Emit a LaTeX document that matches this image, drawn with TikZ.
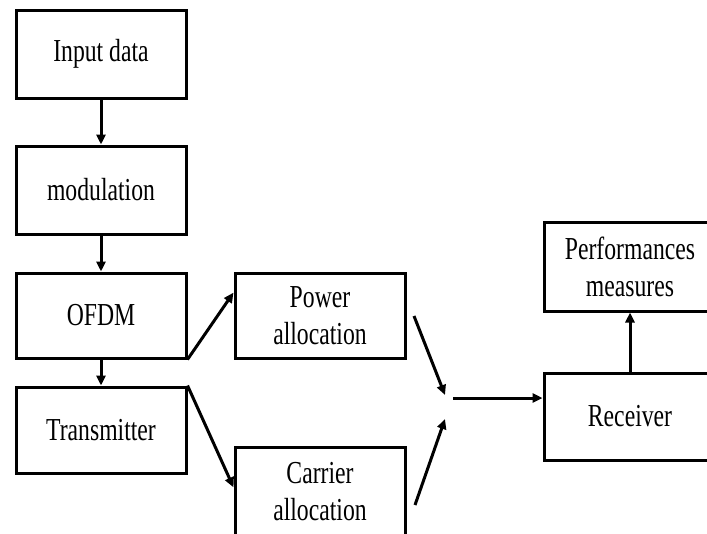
\documentclass[tikz,border=0pt]{standalone}
\usepackage{fontspec}
\setmainfont[FakeStretch=0.74]{Liberation Serif}
\usetikzlibrary{arrows.meta,calc}
\begin{document}
\begin{tikzpicture}[x=1pt,y=-1pt,
  box/.style={draw, line width=3pt, inner sep=0pt, minimum width=170pt, align=center,
    font=\fontsize{32}{37}\selectfont},
  arr/.style={line width=3pt, -{Triangle[length=10pt,width=9pt]}}]
\useasboundingbox (0,0) rectangle (707,533);
\clip (0,0) rectangle (707,533);
\fill[white] (0,0) rectangle (707,533);
\node[box, minimum height=88pt] (inp) at (101,54) {Input data};
\node[box, minimum height=88pt] (mod) at (101,190) {modulation};
\node[box, minimum height=85pt] (ofdm) at (101,315.5) {OFDM};
\node[box, minimum height=86pt] (tx) at (101,430) {Transmitter};
\node[box, minimum height=85pt] (pow) at (320,315.5) {Power\\allocation};
\node[box, minimum height=90pt] (car) at (320,492) {Carrier\\allocation};
\node[box, minimum width=172pt, minimum height=89pt] (perf) at (630,266.5) {Performances\\measures};
\node[box, minimum width=172pt, minimum height=87pt] (rx) at (630,416.5) {Receiver};
\coordinate (jp) at (414,316);
\coordinate (jpe) at (445,395);
\coordinate (jc) at (415,505);
\coordinate (jce) at (445,419);
\coordinate (jh) at (453,398);
\draw[arr] (inp) -- (mod);
\draw[arr] (mod) -- (ofdm);
\draw[arr] (ofdm) -- (tx);
\draw[arr] (ofdm.south east) -- ($(pow.north west)!0.24!(pow.south west)$);
\draw[arr] (tx.north east) -- ($(car.north west)!0.45!(car.south west)$);
\draw[arr] (jp) -- (jpe);
\draw[arr] (jc) -- (jce);
\draw[arr] (jh) -- (rx.west |- jh);
\draw[arr] (rx) -- (perf);
\end{tikzpicture}
\end{document}
